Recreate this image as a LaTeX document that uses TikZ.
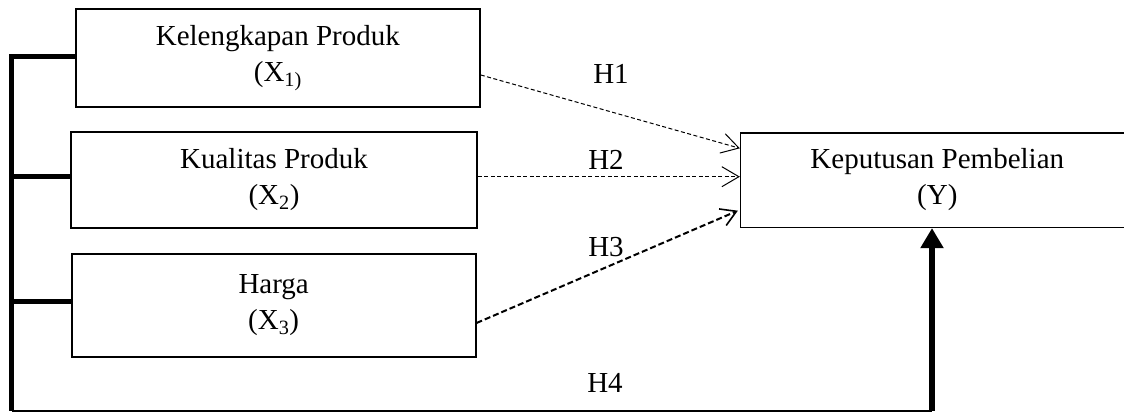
\documentclass[tikz,border=0pt]{standalone}
\usepackage{fontspec}
\setmainfont{Liberation Serif}
\usetikzlibrary{arrows.meta,calc}
\begin{document}
\begin{tikzpicture}[x=1pt,y=-1pt,
  varbox/.style n args={2}{draw, line width=1.6pt, minimum width=#1, minimum height=#2,
    align=center, inner sep=0pt, font=\fontsize{29}{36}\selectfont},
  lab/.style={inner sep=0pt, font=\fontsize{29}{36}\selectfont},
  bar/.style={line width=5pt},
  baseline/.style={line width=2pt},
  hyp/.style={line width=1pt, dash pattern=on 4pt off 2.5pt,
    -{Straight Barb[length=17pt,width=20pt,line width=1pt]}},
  hypbold/.style={line width=2pt, dash pattern=on 6pt off 3pt,
    -{Straight Barb[length=15pt,width=18pt,line width=1.6pt]}},
  support/.style={line width=6pt, -{Triangle[length=20pt,width=22pt]}}]
\useasboundingbox (0,0) rectangle (1124,412);
\clip (0,0) rectangle (1124,412);
\fill[white] (0,0) rectangle (1124,412);

% variable boxes
\node[varbox={404.3}{97.4}] (x1) at (277.85,58) {Kelengkapan Produk\\(X\textsubscript{1)}};
\node[varbox={406}{96}] (x2) at (274,180) {Kualitas Produk\\(X\textsubscript{2})};
\node[varbox={404}{103}] (x3) at (273.7,305.5) {Harga\\(X\textsubscript{3})};
\node[varbox={393.3}{94.6}] (y) at (937.3,180) {Keputusan Pembelian\\(Y)};

% hypothesis labels
\node[lab] (h1) at (611,73.7) {H1};
\node[lab] (h2) at (606,160) {H2};
\node[lab] (h3) at (606,247.5) {H3};
\node[lab] (h4) at (605,383) {H4};

% joint bracket on the left
\coordinate (top) at (11.5,54.2);
\coordinate (j1) at (11.5,56.7);
\coordinate (j2) at (11.5,176.7);
\coordinate (j3) at (11.5,301.7);
\coordinate (corner) at (11.5,410.7);
\coordinate (foot) at (932,410.7);
\draw[bar] (top) -- (corner);
\draw[bar] (j1) -- (j1 -| x1.west);
\draw[bar] (j2) -- (j2 -| x2.west);
\draw[bar] (j3) -- (j3 -| x3.west);
\draw[baseline] (corner) -- (foot);
\draw[support] (foot) -- (foot |- y.south);

% partial effects
\draw[hyp] ($(x1.east)+(0,17)$) -- ($(y.west)+(0,-31.7)$);
\draw[hyp] ($(x2.east)+(0,-3.3)$) -- ($(y.west)+(0,-3.3)$);
\draw[hypbold] ($(x3.east)+(0,17.5)$) -- ($(y.west)+(-2,30.7)$);
\end{tikzpicture}
\end{document}
